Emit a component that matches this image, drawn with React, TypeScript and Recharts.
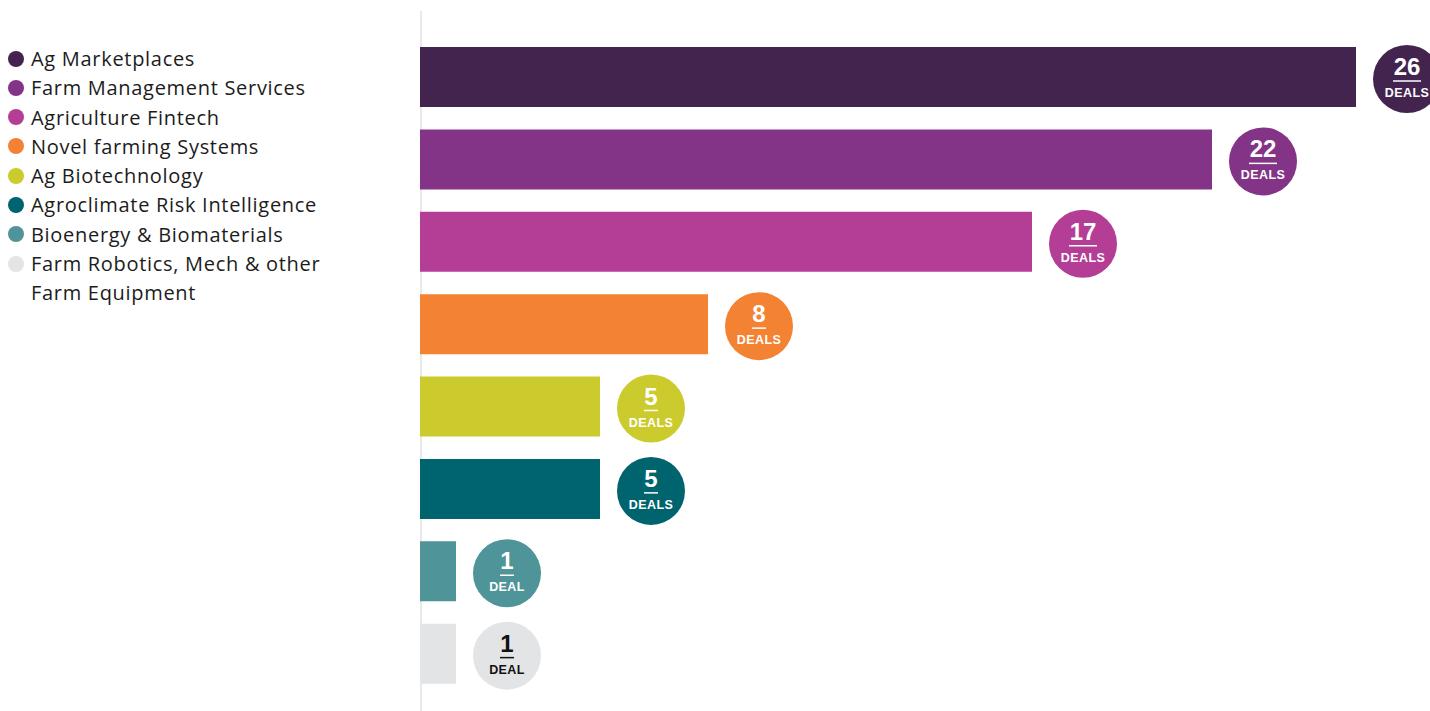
import { BarChart, Bar, XAxis, YAxis, Cell, LabelList } from "recharts";

const categories = [
  "Ag Marketplaces",
  "Farm Management Services",
  "Agriculture Fintech",
  "Novel farming Systems",
  "Ag Biotechnology",
  "Agroclimate Risk Intelligence",
  "Bioenergy & Biomaterials",
  "Farm Robotics, Mech & other Farm Equipment",
];

const deals = [26, 22, 17, 8, 5, 5, 1, 1];

const colors = [
  "#42244f",
  "#833486",
  "#b43d96",
  "#f48233",
  "#cccb2e",
  "#00646e",
  "#4f9499",
  "#e3e4e6",
];

const data = categories.map((name, i) => ({ name, deals: deals[i] }));

type BadgeProps = {
  x?: number | string;
  y?: number | string;
  width?: number | string;
  height?: number | string;
  value?: number | string;
  index?: number;
};

function DealBadge({ x, y, width, height, value, index }: BadgeProps) {
  const bx = Number(x) + Number(width);
  const cy = Number(y) + Number(height) / 2 + 2;
  const cx = bx + 51;
  const i = index ?? 0;
  const n = Number(value);
  const textColor = i === 7 ? "#111" : "#fff";
  const lineW = String(n).length * 14;
  return (
    <g>
      <circle cx={cx} cy={cy} r={34} fill={colors[i]} />
      <text
        x={cx}
        y={cy - 4}
        textAnchor="middle"
        fill={textColor}
        fontSize={24}
        fontWeight={700}
        fontFamily="Liberation Sans, Arial, sans-serif"
      >
        {n}
      </text>
      <line
        x1={cx - lineW / 2}
        x2={cx + lineW / 2}
        y1={cy + 2}
        y2={cy + 2}
        stroke={textColor}
        strokeWidth={1.5}
      />
      <text
        x={cx}
        y={cy + 18}
        textAnchor="middle"
        fill={textColor}
        fontSize={12.5}
        fontWeight={700}
        letterSpacing={0.4}
        fontFamily="Liberation Sans, Arial, sans-serif"
      >
        {n === 1 ? "DEAL" : "DEALS"}
      </text>
    </g>
  );
}

function SideLegend() {
  return (
    <div
      style={{
        position: "absolute",
        left: 8,
        top: 44,
        width: 340,
        fontFamily: "Open Sans, sans-serif",
        fontSize: 20,
        letterSpacing: 0.7,
        color: "#1c1c1c",
      }}
    >
      {categories.map((name, i) => (
        <div
          key={name}
          style={{ display: "flex", alignItems: "flex-start", lineHeight: "29.3px" }}
        >
          <span
            style={{
              display: "inline-block",
              width: 16,
              height: 16,
              borderRadius: "50%",
              backgroundColor: colors[i],
              marginTop: 6.5,
              marginRight: 7,
              flexShrink: 0,
            }}
          />
          <span style={{ maxWidth: 300 }}>{name}</span>
        </div>
      ))}
    </div>
  );
}

export default function App() {
  return (
    <div
      style={{
        position: "absolute",
        left: 0,
        top: 0,
        width: 1430,
        height: 711,
        background: "#fff",
        overflow: "hidden",
      }}
    >
      <div
        style={{
          position: "absolute",
          left: 420,
          top: 11,
          width: 2,
          height: 700,
          background: "#e9e9e9",
        }}
      />
      <SideLegend />
      <div style={{ position: "absolute", left: 0, top: 0 }}>
        <BarChart
          width={1430}
          height={711}
          data={data}
          layout="vertical"
          margin={{ top: 36, right: 2, bottom: 16, left: 420 }}
          barCategoryGap={11}
        >
          <XAxis type="number" domain={[0, 28]} hide />
          <YAxis type="category" dataKey="name" hide width={0} />
          <Bar dataKey="deals" barSize={60} isAnimationActive={false}>
            {data.map((d, i) => (
              <Cell key={d.name} fill={colors[i]} />
            ))}
            <LabelList dataKey="deals" content={<DealBadge />} />
          </Bar>
        </BarChart>
      </div>
    </div>
  );
}
